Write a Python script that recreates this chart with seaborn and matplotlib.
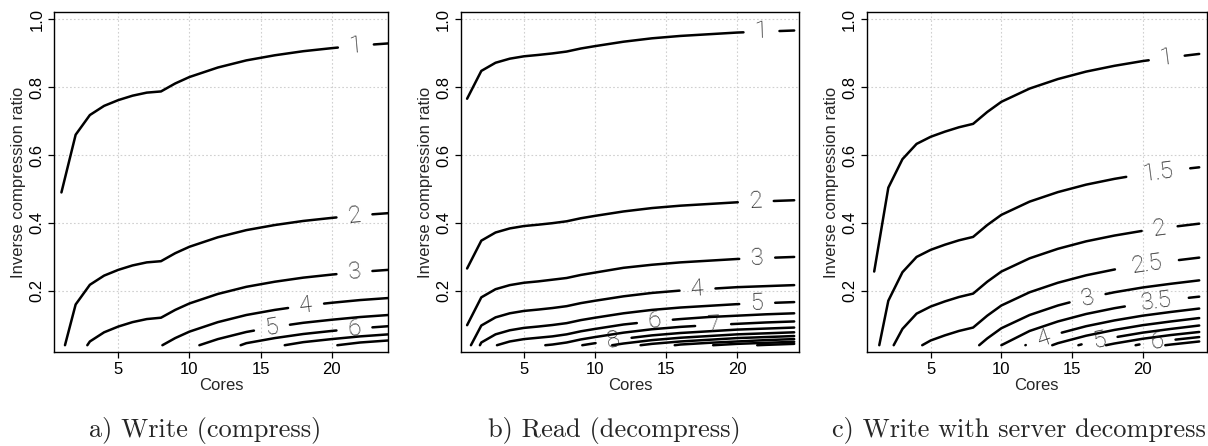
import numpy as np
import matplotlib
matplotlib.use("Agg")
import matplotlib.pyplot as plt
import seaborn as sns

# core counts at which the contour lines bend
cores = [1, 2, 3, 4, 5, 6, 7, 8, 9, 10, 12, 14, 16, 18, 20, 22, 24]
ratio_floor = 0.04

# a) Write (compress): one list per contour, values for the last len(list) cores
write_levels = [1, 2, 3, 4, 5, 6, 7, 8]
write_start = [None, 1.25, 2.82, 8.1, 10.7, 13.6, 16.7, 20.4]
write_ratio = [
    [0.49, 0.66, 0.718, 0.745, 0.762, 0.775, 0.784, 0.7875, 0.811, 0.830, 0.858, 0.879, 0.894, 0.906, 0.915, 0.923, 0.929],
    [0.16, 0.218, 0.245, 0.262, 0.275, 0.284, 0.2875, 0.311, 0.330, 0.358, 0.379, 0.394, 0.406, 0.415, 0.423, 0.429],
    [0.051, 0.078, 0.095, 0.108, 0.117, 0.121, 0.144, 0.163, 0.191, 0.212, 0.227, 0.239, 0.248, 0.256, 0.262],
    [0.061, 0.080, 0.108, 0.129, 0.144, 0.156, 0.165, 0.173, 0.179],
    [0.058, 0.079, 0.094, 0.106, 0.115, 0.123, 0.129],
    [0.046, 0.061, 0.073, 0.082, 0.090, 0.096],
    [0.049, 0.058, 0.066, 0.072],
    [0.048, 0.054],
]
write_label_at = [21.7, 21.6, 21.6, 18.2, 15.8, 21.6, None, None]

# b) Read (decompress)
read_levels = [1, 2, 3, 4, 5, 6, 7, 8, 9, 10, 11, 12, 13]
read_start = [None, None, None, 1.27, 1.9, 3.1, 6.5, 9.1, 11.2, 13.2, 15.6, 18.3, 21.4]
read_ratio = [
    [0.766, 0.848, 0.872, 0.884, 0.891, 0.895, 0.8995, 0.905, 0.914, 0.921, 0.934, 0.944, 0.951, 0.956, 0.961, 0.964, 0.967],
    [0.266, 0.348, 0.372, 0.384, 0.391, 0.395, 0.3995, 0.405, 0.414, 0.421, 0.434, 0.444, 0.451, 0.456, 0.461, 0.464, 0.467],
    [0.099, 0.181, 0.205, 0.217, 0.224, 0.228, 0.233, 0.238, 0.247, 0.254, 0.268, 0.277, 0.284, 0.289, 0.294, 0.297, 0.300],
    [0.098, 0.122, 0.134, 0.141, 0.145, 0.1495, 0.155, 0.164, 0.171, 0.184, 0.194, 0.201, 0.206, 0.211, 0.214, 0.217],
    [0.048, 0.072, 0.084, 0.091, 0.095, 0.0995, 0.105, 0.114, 0.121, 0.134, 0.144, 0.151, 0.156, 0.161, 0.164, 0.167],
    [0.051, 0.058, 0.062, 0.066, 0.072, 0.081, 0.088, 0.101, 0.110, 0.117, 0.123, 0.127, 0.131, 0.134],
    [0.042, 0.048, 0.057, 0.064, 0.077, 0.087, 0.094, 0.099, 0.103, 0.107, 0.110],
    [0.046, 0.059, 0.069, 0.076, 0.081, 0.086, 0.089, 0.092],
    [0.045, 0.055, 0.062, 0.067, 0.072, 0.075, 0.078],
    [0.044, 0.051, 0.056, 0.061, 0.064, 0.067],
    [0.042, 0.047, 0.051, 0.055, 0.058],
    [0.044, 0.047, 0.050],
    [0.041, 0.044],
]
read_label_at = [21.7, 21.3, 21.4, 17.2, 21.4, 14.2, 18.3, 11.3, None, None, None, None, None]

# c) Write with server decompress
server_levels = [1, 1.5, 2, 2.5, 3, 3.5, 4, 4.5, 5, 5.5, 6, 6.5]
server_start = [None, 1.36, 2.38, 4.4, 8.43, 10.0, 11.7, 13.6, 15.45, 17.4, 19.5, 21.6]
server_ratio = [
    [0.257, 0.504, 0.588, 0.633, 0.654, 0.669, 0.682, 0.692, 0.727, 0.757, 0.796, 0.824, 0.846, 0.863, 0.877, 0.888, 0.898],
    [0.171, 0.255, 0.300, 0.321, 0.336, 0.349, 0.359, 0.394, 0.424, 0.463, 0.491, 0.513, 0.530, 0.544, 0.555, 0.564],
    [0.088, 0.133, 0.154, 0.169, 0.182, 0.192, 0.227, 0.257, 0.296, 0.324, 0.346, 0.363, 0.377, 0.388, 0.398],
    [0.054, 0.069, 0.082, 0.092, 0.127, 0.157, 0.196, 0.224, 0.246, 0.263, 0.277, 0.288, 0.298],
    [0.060, 0.090, 0.129, 0.157, 0.179, 0.196, 0.210, 0.221, 0.231],
    [0.082, 0.110, 0.132, 0.149, 0.163, 0.174, 0.183],
    [0.046, 0.074, 0.096, 0.113, 0.127, 0.138, 0.148],
    [0.046, 0.068, 0.085, 0.099, 0.110, 0.120],
    [0.046, 0.063, 0.077, 0.088, 0.098],
    [0.045, 0.059, 0.070, 0.079],
    [0.044, 0.055, 0.064],
    [0.042, 0.051],
]
server_label_at = [21.7, 21.1, 21.2, 20.3, 16.1, 21.0, 13.0, None, 16.95, None, 21.05, None]

captions = ["a) Write (compress)", "b) Read (decompress)", "c) Write with server decompress"]
x_ticks = [5, 10, 15, 20]
y_ticks = [0.2, 0.4, 0.6, 0.8, 1.0]


def contour_points(start, ratios):
    xs = list(cores[-len(ratios):])
    ys = list(ratios)
    if start is not None:
        xs = [start] + xs
        ys = [ratio_floor] + ys
    return np.array(xs, dtype=float), np.array(ys, dtype=float)


def cut_gap(xs, ys, lo, hi):
    parts = []
    if xs[0] < lo:
        m = xs < lo
        parts.append((np.append(xs[m], lo), np.append(ys[m], np.interp(lo, xs, ys))))
    if xs[-1] > hi:
        m = xs > hi
        parts.append((np.insert(xs[m], 0, hi), np.insert(ys[m], 0, np.interp(hi, xs, ys))))
    return parts


sns.set_style("white")
plt.rcParams['font.family'] = ['Liberation Sans', 'DejaVu Sans']

fig = plt.figure(figsize=(12.08, 4.46), dpi=100)
W, H = 1208, 446
boxes = [(54, 388), (460.7, 799.3), (866.7, 1206.7)]
xlims = [(0.478, 23.96), (0.55, 24.36), (0.47, 24.53)]
caption_x = [205, 614, 1019]
panels = [
    (write_levels, write_start, write_ratio, write_label_at),
    (read_levels, read_start, read_ratio, read_label_at),
    (server_levels, server_start, server_ratio, server_label_at),
]

for i, (levels, starts, ratios, label_at) in enumerate(panels):
    left, right = boxes[i]
    ax = fig.add_axes([left / W, (H - 352) / H, (right - left) / W, 340 / H])
    ax.set_xlim(*xlims[i])
    ax.set_ylim(0.02, 1.0215)
    ax.set_xticks(x_ticks)
    ax.set_yticks(y_ticks)
    ax.set_xticklabels([str(t) for t in x_ticks])
    ax.set_yticklabels([f"{t:.1f}" for t in y_ticks], rotation=90, va='center')
    ax.grid(True, color='#d0d0d0', linestyle=(0, (1.5, 2)), linewidth=0.8)
    ax.set_axisbelow(True)
    ax.tick_params(direction='out', length=4.5, width=0.9, colors='black',
                   labelsize=12, pad=2.5, left=True, bottom=True)
    for s in ax.spines.values():
        s.set_color('black')
        s.set_linewidth(1.0)
    ax.set_xlabel("Cores", fontsize=12, labelpad=1)
    ax.set_ylabel("Inverse compression ratio", fontsize=12, labelpad=2)

    px_per_x = (ax.transData.transform((1, 0)) - ax.transData.transform((0, 0)))[0]
    for lv, st, ys_in, lab in zip(levels, starts, ratios, label_at):
        xs, ys = contour_points(st, ys_in)
        text = f"{lv:g}"
        if lab is None:
            parts = [(xs, ys)]
        else:
            half = (11 + 7 * len(text)) / px_per_x
            parts = cut_gap(xs, ys, lab - half, lab + half)
            ly = np.interp(lab, xs, ys)
            p1 = ax.transData.transform((lab - 0.7, np.interp(lab - 0.7, xs, ys)))
            p2 = ax.transData.transform((lab + 0.7, np.interp(lab + 0.7, xs, ys)))
            ang = np.degrees(np.arctan2(p2[1] - p1[1], p2[0] - p1[0]))
            ax.text(lab, ly, text, fontsize=17, color='#1a1a1a', rotation=ang,
                    rotation_mode='anchor', ha='center', va='center',
                    family=['Roboto', 'Liberation Sans'], fontweight='light')
        for px, py in parts:
            if len(px) >= 2:
                sns.lineplot(x=px, y=py, ax=ax, color='black', linewidth=1.8,
                             sort=False, estimator=None)

    fig.text(caption_x[i] / W, 1 - 430 / H, captions[i], fontsize=19,
             family='cmr10', ha='center', va='center')

fig.savefig("out.png", dpi=100)
